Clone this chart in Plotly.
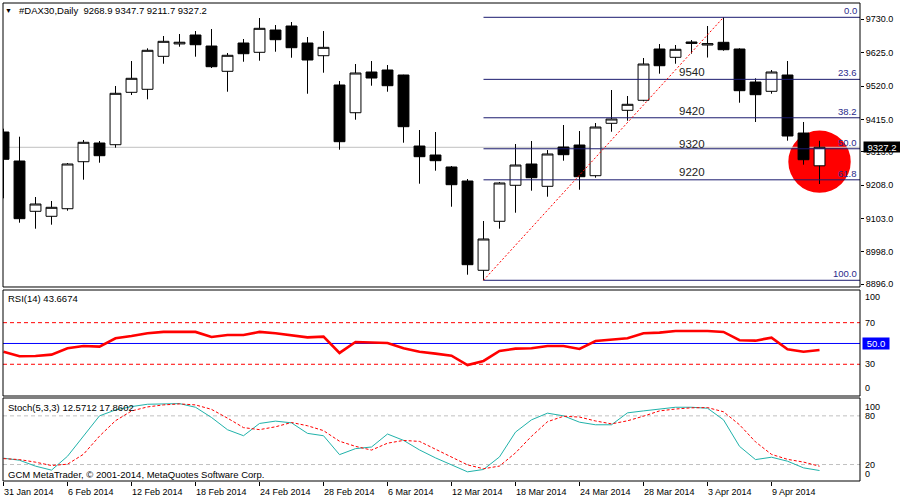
import plotly.graph_objects as go

# ---------------- data ----------------
bar_index = list(range(52))

opens = [9375.3, 9284.0, 9125.7, 9110.0, 9133.9, 9281.8, 9340.7, 9335.3, 9500.2, 9509.7,
         9613.5, 9652.5, 9680.6, 9645.9, 9566.3, 9655.4, 9626.1, 9696.3, 9708.9, 9655.4,
         9615.4, 9523.2, 9436.0, 9564.1, 9570.4, 9554.7, 9331.2, 9302.9, 9265.2, 9221.1,
         8940.1, 9094.3, 9207.6, 9274.6, 9204.4, 9328.1, 9334.4, 9237.8, 9402.7, 9443.6,
         9475.1, 9636.5, 9610.4, 9654.0, 9649.0, 9657.6, 9636.5, 9532.6, 9503.4, 9554.7,
         9372.1, 9268.9]
highs = [9385.7, 9360.5, 9170.7, 9158.2, 9277.7, 9350.1, 9347.0, 9520.1, 9598.7, 9638.7,
         9677.4, 9683.7, 9693.1, 9699.4, 9623.9, 9668.0, 9734.1, 9712.0, 9721.5, 9674.3,
         9693.1, 9535.8, 9589.3, 9598.7, 9586.1, 9555.5, 9381.6, 9375.3, 9268.3, 9227.4,
         9095.2, 9217.9, 9337.5, 9347.0, 9318.6, 9397.3, 9378.4, 9403.6, 9507.5, 9488.6,
         9608.2, 9652.2, 9649.1, 9664.8, 9708.9, 9736.3, 9638.7, 9544.3, 9570.4, 9598.7,
         9406.8, 9347.7]
lows = [9166.6, 9089.9, 9071.0, 9083.6, 9127.6, 9225.2, 9278.7, 9325.9, 9491.7, 9478.2,
        9590.2, 9643.7, 9612.3, 9576.7, 9502.1, 9596.5, 9599.7, 9628.0, 9609.1, 9495.8,
        9561.9, 9319.6, 9414.0, 9521.0, 9502.1, 9341.6, 9212.6, 9253.5, 9140.2, 8926.2,
        8908.6, 9071.0, 9121.3, 9190.6, 9171.7, 9285.0, 9193.7, 9231.5, 9376.2, 9410.9,
        9471.9, 9558.8, 9590.2, 9621.7, 9609.7, 9631.1, 9467.5, 9406.8, 9495.8, 9347.9,
        9272.4, 9211.7]
closes = [9289.4, 9102.5, 9148.7, 9138.3, 9274.6, 9342.9, 9300.7, 9497.1, 9544.3, 9632.4,
          9660.7, 9657.8, 9650.0, 9580.8, 9616.7, 9621.7, 9701.6, 9665.8, 9640.6, 9601.9,
          9641.8, 9344.8, 9561.0, 9545.2, 9521.0, 9392.0, 9297.6, 9285.0, 9209.5, 8957.7,
          9038.6, 9214.8, 9271.4, 9231.5, 9306.1, 9303.9, 9234.6, 9391.0, 9416.2, 9462.5,
          9589.3, 9583.9, 9635.6, 9658.5, 9653.5, 9634.3, 9505.3, 9492.7, 9564.1, 9362.7,
          9288.1, 9327.2]

rsi_values = [42.1, 37.7, 38.0, 39.3, 45.4, 47.6, 47.0, 55.0, 57.2, 59.8,
              61.1, 61.1, 61.1, 56.3, 58.2, 58.2, 61.1, 59.8, 58.2, 55.9,
              56.6, 40.9, 51.4, 51.1, 50.5, 45.4, 42.1, 40.2, 38.3, 29.3,
              33.2, 42.8, 45.0, 45.4, 47.6, 47.6, 44.7, 52.4, 53.4, 55.0,
              59.8, 60.4, 62.0, 62.3, 62.0, 61.1, 53.1, 52.7, 55.6, 44.4,
              42.0, 43.7]

stoch_main = [27.8, 25.3, 18.0, 13.1, 30.2, 54.7, 80.0, 87.3, 91.4, 94.3,
              94.7, 95.1, 90.6, 78.0, 62.9, 55.5, 70.6, 73.5, 71.4, 58.4,
              55.5, 32.2, 39.6, 41.6, 57.6, 49.8, 38.0, 28.2, 19.6, 11.0,
              13.9, 29.4, 60.0, 75.1, 83.3, 80.0, 72.2, 69.0, 69.0, 83.7,
              86.1, 88.6, 90.6, 90.6, 89.4, 75.1, 42.4, 26.1, 29.0, 24.1,
              15.9, 12.6]
stoch_signal = [27.3, 26.1, 22.9, 18.8, 20.4, 32.7, 55.0, 74.0, 86.0, 91.0,
                93.5, 94.7, 93.5, 88.0, 77.2, 65.5, 63.0, 66.5, 71.8, 67.8,
                61.8, 48.7, 42.4, 37.8, 46.3, 49.7, 48.5, 38.7, 28.6, 19.6,
                14.8, 18.1, 34.4, 54.8, 72.8, 79.5, 78.5, 73.7, 70.1, 73.9,
                79.6, 86.1, 88.4, 89.9, 90.2, 85.0, 69.0, 47.9, 32.5, 26.4,
                23.0, 17.9]

date_labels = ["31 Jan 2014", "6 Feb 2014", "12 Feb 2014", "18 Feb 2014", "24 Feb 2014",
               "28 Feb 2014", "6 Mar 2014", "12 Mar 2014", "18 Mar 2014", "24 Mar 2014",
               "28 Mar 2014", "3 Apr 2014", "9 Apr 2014"]
date_positions = [0, 4, 8, 12, 16, 20, 24, 28, 32, 36, 40, 44, 48]

price_ticks = [9730.0, 9625.0, 9520.0, 9415.0, 9313.0, 9208.0, 9103.0, 8998.0, 8896.0]
price_tick_text = ["9730.0", "9625.0", "9520.0", "9415.0", "9313.0", "9208.0",
                   "9103.0", "8998.0", "8896.0"]

fib_level_names = ["0.0", "23.6", "38.2", "50.0", "61.8", "100.0"]
fib_levels = [9736.3, 9541.0, 9420.1, 9322.5, 9224.8, 8908.6]
fib_start_bar = 30
fib_end_bar = 45
fib_note_text = ["9540", "9420", "9320", "9220"]
fib_note_price = [9564.0, 9441.0, 9337.0, 9249.0]
fib_note_bar = 43

last_price = 9327.2
highlight_bar = 51
highlight_price = 9282.0
highlight_rx = 1.95
highlight_ry = 98.0

rsi_levels = [70, 50, 30]
stoch_levels = [80, 20]
rsi_labels = ["100", "70", "30", "0"]
rsi_label_vals = [100, 70, 30, 0]
stoch_labels = ["100", "80", "20", "0"]
stoch_label_vals = [100, 80, 20, 0]

# ---------------- figure ----------------
X_MIN, X_MAX = -0.031, 53.53
FONT = "Liberation Sans"

MAIN_DOM = [0.40586, 1.0]
RSI_DOM = [0.17782, 0.39958]
STO_DOM = [0.0, 0.17364]

fig = go.Figure()

fig.add_trace(go.Candlestick(
    x=bar_index, open=opens, high=highs, low=lows, close=closes,
    increasing=dict(fillcolor="white", line=dict(color="black", width=1)),
    decreasing=dict(fillcolor="black", line=dict(color="black", width=1)),
    whiskerwidth=0, xaxis="x", yaxis="y", hoverinfo="skip", showlegend=False))

for lvl in rsi_levels:
    fig.add_trace(go.Scatter(
        x=[X_MIN, X_MAX], y=[lvl, lvl], mode="lines", xaxis="x", yaxis="y2",
        line=dict(color="#0000ff" if lvl == 50 else "#ff0000", width=1,
                  dash="solid" if lvl == 50 else "4px,3px"),
        hoverinfo="skip", showlegend=False))
fig.add_trace(go.Scatter(
    x=bar_index, y=rsi_values, mode="lines", xaxis="x", yaxis="y2",
    line=dict(color="#ff0000", width=2.6), hoverinfo="skip", showlegend=False))

for lvl in stoch_levels:
    fig.add_trace(go.Scatter(
        x=[X_MIN, X_MAX], y=[lvl, lvl], mode="lines", xaxis="x", yaxis="y3",
        line=dict(color="#c0c0c0", width=1, dash="4px,3px"),
        hoverinfo="skip", showlegend=False))
fig.add_trace(go.Scatter(
    x=bar_index, y=stoch_main, mode="lines", xaxis="x", yaxis="y3",
    line=dict(color="#20b2aa", width=1), hoverinfo="skip", showlegend=False))
fig.add_trace(go.Scatter(
    x=bar_index, y=stoch_signal, mode="lines", xaxis="x", yaxis="y3",
    line=dict(color="#ff0000", width=1, dash="3px,2px"), hoverinfo="skip", showlegend=False))

shapes = []
shapes.append(dict(type="circle", xref="x", yref="y", layer="below",
                   x0=highlight_bar - highlight_rx, x1=highlight_bar + highlight_rx,
                   y0=highlight_price - highlight_ry, y1=highlight_price + highlight_ry,
                   fillcolor="#ff0000", line=dict(width=0)))
shapes.append(dict(type="line", xref="x", yref="y", layer="below",
                   x0=X_MIN, x1=X_MAX, y0=last_price, y1=last_price,
                   line=dict(color="#c0c0c0", width=1)))
for lvl in fib_levels:
    shapes.append(dict(type="line", xref="x", yref="y", layer="above",
                       x0=fib_start_bar, x1=X_MAX, y0=lvl, y1=lvl,
                       line=dict(color="#1a1a6e", width=1)))
shapes.append(dict(type="line", xref="x", yref="y", layer="above",
                   x0=fib_start_bar, y0=fib_levels[-1], x1=fib_end_bar, y1=fib_levels[0],
                   line=dict(color="#ff0000", width=1, dash="2px,2px")))
for dom in (MAIN_DOM, RSI_DOM, STO_DOM):
    shapes.append(dict(type="rect", xref="paper", yref="paper", layer="above",
                       x0=0, x1=1, y0=dom[0], y1=dom[1],
                       line=dict(color="black", width=1), fillcolor="rgba(0,0,0,0)"))

ann = []
def txt(text, x, y, xref="paper", yref="paper", xanchor="left", yanchor="middle",
        size=9.5, color="black", **kw):
    ann.append(dict(text=text, x=x, y=y, xref=xref, yref=yref, xanchor=xanchor,
                    yanchor=yanchor, showarrow=False,
                    font=dict(family=FONT, size=size, color=color), **kw))

txt("▼", 0.007, 0.9835, xanchor="center", size=7)
txt("#DAX30,Daily  9268.9 9347.7 9211.7 9327.2", 0.0165, 0.9833)
txt("RSI(14) 43.6674", 0.0035, 0.3808)
txt("Stoch(5,3,3) 12.5712 17.8602", 0.0035, 0.1533)
txt("GCM MetaTrader, © 2001-2014, MetaQuotes Software Corp.", 0.0035, 0.0126)

for name, lvl in zip(fib_level_names, fib_levels):
    txt(name, 1.0, lvl, yref="y", xanchor="right", yanchor="bottom",
        color="#2a2a8a", xshift=-1, yshift=-1)
for t, p in zip(fib_note_text, fib_note_price):
    txt(t, fib_note_bar, p, xref="x", yref="y", xanchor="center", size=11.5, color="#222222")

txt("9327.2", 1.0035, last_price, yref="y", xanchor="left", size=9.5, color="white",
    bgcolor="black", width=36, height=10, borderpad=0, align="center")

for t, v in zip(rsi_labels, rsi_label_vals):
    ya = "top" if v == 100 else ("bottom" if v == 0 else "middle")
    txt(t, 1.0035, v, yref="y2", yanchor=ya, size=9, yshift=1 if v == 100 else 0)
txt("50.0", 1.0023, 50, yref="y2", xanchor="left", size=9.5, color="white",
    bgcolor="#0000ff", width=26, height=11, borderpad=0, align="center")
for t, v in zip(stoch_labels, stoch_label_vals):
    ya = "top" if v == 100 else ("bottom" if v == 0 else "middle")
    txt(t, 1.0035, v, yref="y3", yanchor=ya, size=9)

for d, pos in zip(date_labels, date_positions):
    txt(d, pos, -0.0224, xref="x", xanchor="left", size=9, xshift=-2)

fig.update_layout(
    width=900, height=500,
    margin=dict(l=3, r=40, t=3, b=19, autoexpand=False),
    paper_bgcolor="white", plot_bgcolor="white",
    showlegend=False, hovermode=False,
    boxgap=0.32, boxgroupgap=0,
    shapes=shapes, annotations=ann,
    xaxis=dict(range=[X_MIN, X_MAX], anchor="y3", tickvals=date_positions,
               ticks="outside", ticklen=4, tickcolor="black", showticklabels=False,
               showgrid=False, zeroline=False, showline=False, automargin=False,
               rangeslider=dict(visible=False)),
    yaxis=dict(domain=MAIN_DOM, range=[8887.5, 9781.3], side="right", anchor="x",
               tickvals=price_ticks, ticktext=price_tick_text, ticks="outside",
               ticklen=3, tickcolor="black", automargin=False,
               tickfont=dict(family=FONT, size=9, color="black"),
               showgrid=False, zeroline=False, showline=False),
    yaxis2=dict(domain=RSI_DOM, range=[-0.5, 101.4], anchor="x", showticklabels=False,
                ticks="", showgrid=False, zeroline=False, showline=False, automargin=False),
    yaxis3=dict(domain=STO_DOM, range=[-0.3, 102.0], anchor="x", showticklabels=False,
                ticks="", showgrid=False, zeroline=False, showline=False, automargin=False),
)

fig.write_html(
    "out.html",
    config={"displayModeBar": False, "staticPlot": True},
    post_script="document.body.style.margin='0';document.body.style.padding='0';"
                "document.body.style.overflow='hidden';",
)
